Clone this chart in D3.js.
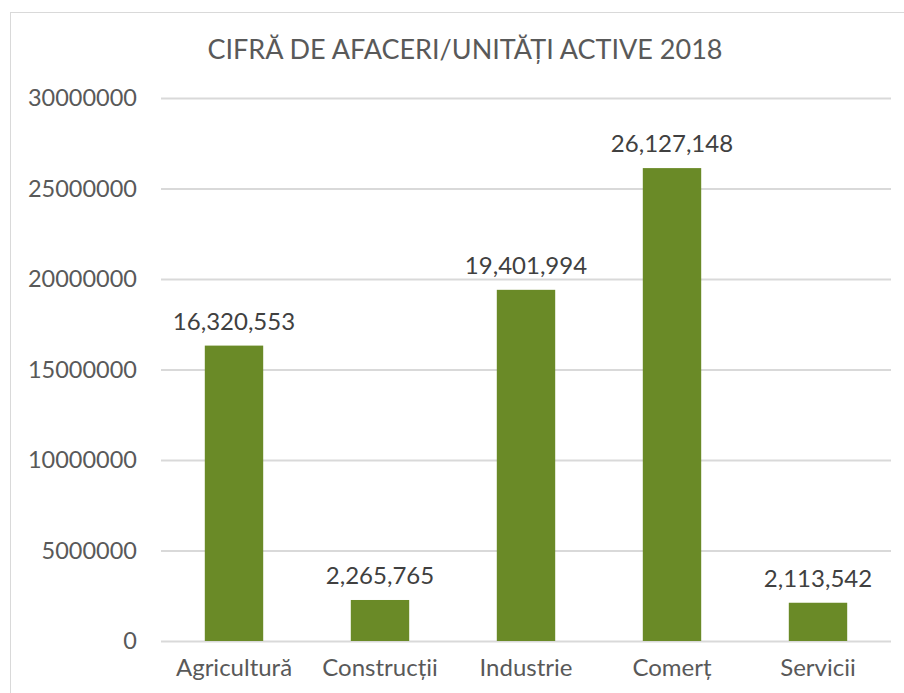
<!DOCTYPE html>
<html>
<head>
<meta charset="utf-8">
<script src="https://cdn.jsdelivr.net/npm/d3@7"></script>
<style>
  body { margin: 0; background: #fff; }
  text { font-family: Lato, "Open Sans", sans-serif; fill: #595959; }
</style>
</head>
<body>
<div id="chart"></div>
<script>
// values
var categories = ["Agricultură", "Construcții", "Industrie", "Comerț", "Servicii"];
var values = [16320553, 2265765, 19401994, 26127148, 2113542];
var yTicks = [0, 5000000, 10000000, 15000000, 20000000, 25000000, 30000000];
var title = "CIFRĂ DE AFACERI/UNITĂȚI ACTIVE 2018";

var width = 904,
    height = 693,
    barColor = "#6a8a27",
    gridColor = "#d9d9d9";

var margin = {top: 98, right: 13, bottom: 52, left: 161};

var svg = d3.select("#chart").append("svg")
    .attr("width", width)
    .attr("height", height);

// chart border
svg.append("rect")
    .attr("x", 10.5).attr("y", 12.5)
    .attr("width", width).attr("height", height)
    .attr("fill", "none")
    .attr("stroke", gridColor);

var x = d3.scaleBand()
    .domain(categories)
    .range([margin.left, width - margin.right])
    .paddingInner(0.6)
    .paddingOuter(0.3);

var y = d3.scaleLinear()
    .domain([0, 30000000])
    .range([height - margin.bottom, margin.top]);

// gridlines + y labels
var yAxis = svg.append("g")
    .attr("transform", "translate(" + margin.left + ",0)")
    .call(d3.axisLeft(y).tickValues(yTicks).tickFormat(d3.format("d"))
      .tickSize(-(width - margin.left - margin.right)).tickPadding(24));
yAxis.select(".domain").remove();
yAxis.selectAll("line").attr("stroke", gridColor).attr("stroke-width", 2);
yAxis.selectAll("text").style("font-size", "23.5px").attr("fill", "#595959");

svg.selectAll(".bar")
    .data(values)
  .enter().append("rect")
    .attr("class", "bar")
    .attr("x", function(d, i) { return x(categories[i]); })
    .attr("y", function(d) { return y(d); })
    .attr("width", x.bandwidth())
    .attr("height", function(d) { return y(0) - y(d); })
    .attr("fill", barColor);

// value labels
svg.selectAll(".val")
    .data(values)
  .enter().append("text")
    .attr("class", "val")
    .attr("x", function(d, i) { return x(categories[i]) + x.bandwidth() / 2; })
    .attr("y", function(d) { return y(d) - 16; })
    .attr("text-anchor", "middle")
    .style("font-size", "24px")
    .style("fill", "#404040")
    .text(function(d) { return d3.format(",")(d); });

// category labels
svg.selectAll(".cat")
    .data(categories)
  .enter().append("text")
    .attr("class", "cat")
    .attr("x", function(d) { return x(d) + x.bandwidth() / 2; })
    .attr("y", height - margin.bottom + 35)
    .attr("text-anchor", "middle")
    .style("font-size", "24px")
    .text(function(d) { return d; });

svg.append("text")
    .attr("x", 465)
    .attr("y", 59)
    .attr("text-anchor", "middle")
    .style("font-size", "27px")
    .text(title);
</script>
</body>
</html>
